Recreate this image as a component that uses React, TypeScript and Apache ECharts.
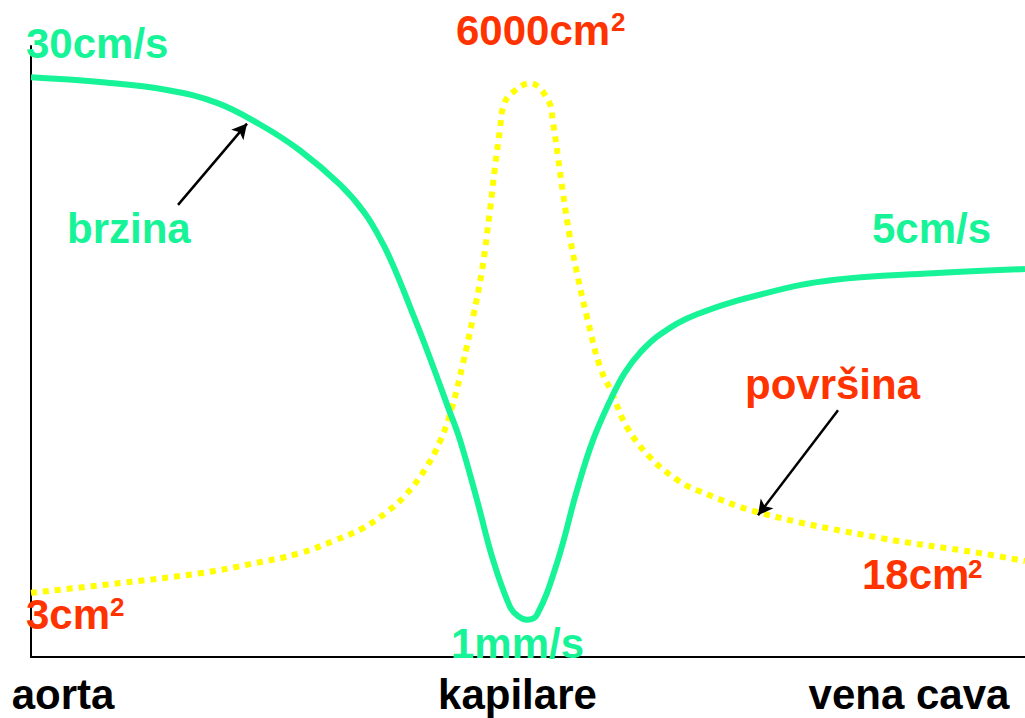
import React, { useEffect, useRef } from "react";
import * as echarts from "echarts";

// Velocity curve (brzina), relative scale 0..100
const velocityX = [0, 6.94, 13.68, 18.71, 23.04, 27.06, 31.09, 33.6, 35.41, 36.72, 38.13, 39.84, 41.95, 43.16, 44.87, 46.48, 48.19, 49.0, 49.9, 50.9, 52.92, 54.93, 56.54, 58.45, 59.76, 61.27, 63.28, 67.0, 74.04, 80.68, 90.74, 100];
const velocityY = [94.9, 94.1, 92.8, 90.7, 87.15, 82.9, 77.3, 72.6, 67.6, 63.0, 57.3, 50.2, 40.9, 35.5, 25.7, 15.9, 8.2, 6.7, 6.1, 6.9, 15.4, 27.3, 35.5, 42.6, 46.6, 49.8, 52.8, 56.1, 59.6, 61.7, 62.8, 63.5];

// Cross-section area curve (površina), relative scale 0..100
const areaX = [0, 8.95, 17.0, 22.03, 27.06, 30.58, 33.4, 35.61, 37.63, 39.64, 41.15, 42.35, 43.46, 44.47, 45.37, 46.18, 46.68, 47.18, 47.48, 48.19, 50.2, 52.01, 52.52, 53.02, 53.52, 54.23, 54.93, 55.94, 57.24, 58.45, 59.96, 62.27, 64.99, 67.0, 73.34, 85.41, 95.47, 100];
const areaY = [10.5, 12.1, 13.7, 15.2, 17.0, 19.1, 21.1, 23.5, 26.4, 30.7, 35.3, 40.8, 48.1, 55.6, 63.3, 73.2, 80.2, 86.3, 89.9, 92.0, 93.9, 91.2, 87.4, 81.8, 75.9, 68.6, 62.8, 55.6, 47.5, 43.2, 37.6, 32.7, 29.0, 27.3, 23.6, 19.5, 17.0, 15.7];

// X tick labels and their positions on the axis
const xTickLabels = ["aorta", "kapilare", "vena cava"];
const xTickValues = [3.22, 48.94, 88.33];

// Arrows: [fromX, fromY, toX, toY]
const arrowBrzina = [14.79, 74.0, 21.73, 87.3];
const arrowPovrsina = [81.19, 40.4, 73.14, 23.2];

const GREEN = "#17f397";
const RED = "#ff3300";
const YELLOW = "#ffff00";
const FONT = "'Liberation Sans', Arial, sans-serif";

export default function App() {
  const ref = useRef<HTMLDivElement>(null);
  useEffect(() => {
    const chart = echarts.init(ref.current!, null, { renderer: "svg" });
    const txt = (text: string, x: number, y: number, color: string, size = 42) => ({
      type: "text",
      x,
      y,
      style: {
        text,
        fill: color,
        font: `bold ${size}px ${FONT}`,
        align: "left",
        verticalAlign: "middle",
      },
      z: 100,
    });
    chart.setOption({
      animation: false,
      backgroundColor: "#ffffff",
      grid: { left: 31, right: 0, top: 46, bottom: 61 },
      xAxis: {
        type: "value",
        min: 0,
        max: 100,
        splitLine: { show: false },
        axisTick: { show: false },
        axisLine: { show: true, lineStyle: { color: "#000", width: 2 } },
        axisLabel: {
          show: true,
          customValues: xTickValues,
          formatter: (v: number) => {
            const i = xTickValues.findIndex((t) => Math.abs(t - v) < 1e-6);
            return i >= 0 ? xTickLabels[i] : "";
          },
          color: "#000",
          fontFamily: FONT,
          fontWeight: "bold",
          fontSize: 42,
          margin: 16,
        },
      },
      yAxis: {
        type: "value",
        min: 0,
        max: 100,
        splitLine: { show: false },
        axisTick: { show: false },
        axisLabel: { show: false },
        axisLine: { show: true, lineStyle: { color: "#000", width: 2 } },
      },
      series: [
        {
          type: "line",
          name: "površina",
          data: areaX.map((x, i) => [x, areaY[i]]),
          smooth: 0.4,
          showSymbol: false,
          lineStyle: { color: YELLOW, width: 6, type: [6, 6], cap: "butt" },
          z: 2,
          markLine: {
            silent: true,
            symbol: ["none", "arrow"],
            symbolSize: [12, 15],
            label: { show: false },
            lineStyle: { color: "#000", width: 2.5, type: "solid" },
            data: [
              [
                { coord: [arrowPovrsina[0], arrowPovrsina[1]] },
                { coord: [arrowPovrsina[2], arrowPovrsina[3]] },
              ],
            ],
          },
        },
        {
          type: "line",
          name: "brzina",
          data: velocityX.map((x, i) => [x, velocityY[i]]),
          smooth: 0.4,
          showSymbol: false,
          lineStyle: { color: GREEN, width: 6 },
          z: 3,
          markLine: {
            silent: true,
            symbol: ["none", "arrow"],
            symbolSize: [12, 15],
            label: { show: false },
            lineStyle: { color: "#000", width: 2.5, type: "solid" },
            data: [
              [
                { coord: [arrowBrzina[0], arrowBrzina[1]] },
                { coord: [arrowBrzina[2], arrowBrzina[3]] },
              ],
            ],
          },
        },
      ],
      graphic: [
        txt("30cm/s", 26, 43, GREEN),
        txt("6000cm", 456, 30, RED),
        txt("2", 611, 22, RED, 26),
        txt("brzina", 67, 228, GREEN),
        txt("5cm/s", 872, 228, GREEN),
        txt("površina", 745, 384, RED),
        txt("18cm", 862, 574, RED),
        txt("2", 968, 569, RED, 26),
        txt("3cm", 26, 614, RED),
        txt("2", 110, 607, RED, 26),
        txt("1mm/s", 451, 643, GREEN),
      ],
    });
    return () => chart.dispose();
  }, []);
  return (
    <div
      ref={ref}
      style={{ position: "fixed", left: 0, top: 0, width: 1025, height: 718, background: "#fff" }}
    />
  );
}
